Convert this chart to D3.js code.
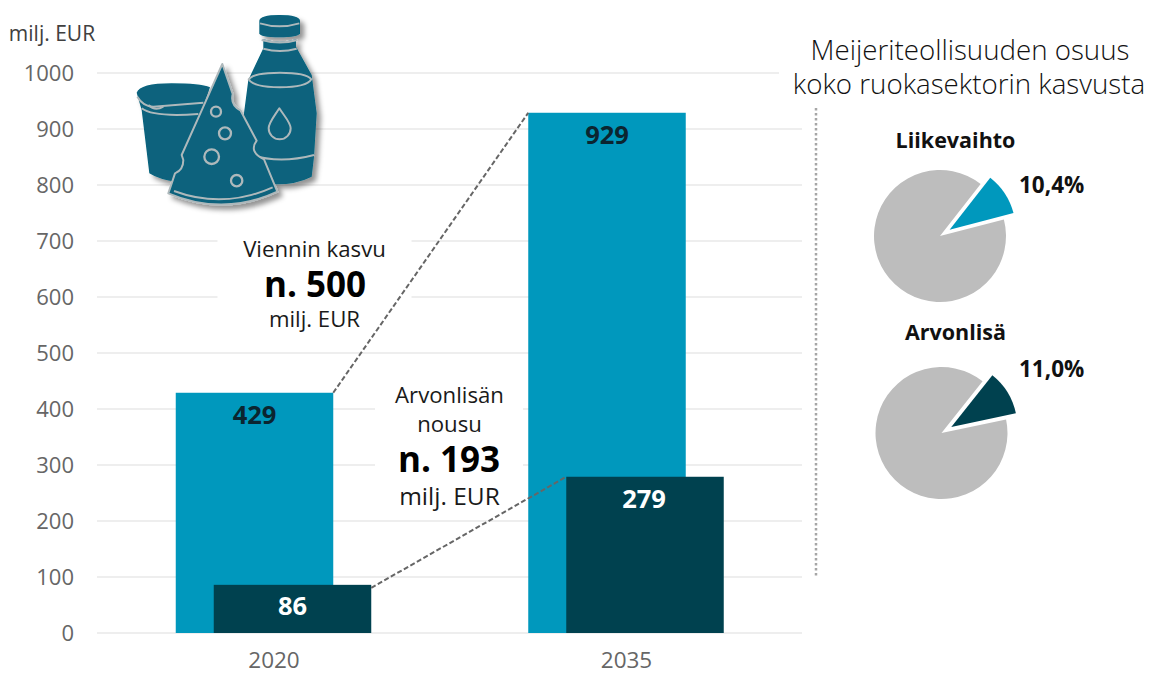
<!DOCTYPE html>
<html><head><meta charset="utf-8">
<script src="https://cdn.jsdelivr.net/npm/d3@7"></script>
<style>html,body{margin:0;padding:0;background:#fff}svg{display:block}text{font-family:"Open Sans",sans-serif}</style>
</head><body><svg id="c" width="1149" height="675"></svg>
<script>
const years = ["2020","2035"];
const exportValues = [429,929];
const valueAdded = [86,279];
const yTicks = [0,100,200,300,400,500,600,700,800,900,1000];
const pieTitles = ["Liikevaihto","Arvonlisä"];
const pieShares = [10.4,11.0];
const pieLabels = ["10,4%","11,0%"];

const svg = d3.select("#c");
const light="#0098bd", dark="#00414f", grey="#bdbdbd", icon="#07627d", iconLine="#aeb8bb";
const y = d3.scaleLinear().domain([0,1000]).range([633,73]);
const x = d3.scalePoint().domain(years).range([273.5,626]);
const barW = 157.5, darkShift = 38, groupShift = 19;

// grid
svg.append("g").selectAll("line").data(yTicks).join("line")
  .attr("x1",97).attr("x2",d=>d===1000?779:802).attr("y1",d=>y(d)).attr("y2",d=>y(d))
  .attr("stroke","#dedede").attr("stroke-width",1.2);

const yAxis = d3.axisLeft(y).tickValues(yTicks).tickSize(0).tickPadding(0).tickFormat(d3.format("d"));
const gy = svg.append("g").attr("transform","translate(74,0)").call(yAxis);
gy.select(".domain").remove();
gy.selectAll("text").attr("font-size",22).attr("fill","#666").style("font-family",'"Open Sans",sans-serif');

const xAxis = d3.axisBottom(x).tickSize(0).tickPadding(0);
const gx = svg.append("g").attr("transform","translate(0,652)").call(xAxis);
gx.select(".domain").remove();
gx.selectAll("text").attr("font-size",22.5).attr("fill","#666").attr("dy","0.71em").style("font-family",'"Open Sans",sans-serif');

function label(t,px,py,size,opt={}){
  return svg.append("text").attr("x",px).attr("y",py).attr("font-size",size)
    .attr("text-anchor",opt.anchor||"middle").attr("font-weight",opt.weight||400)
    .attr("fill",opt.fill||"#1a1a1a").text(t);
}
label("milj. EUR",52,41,21,{fill:"#404040"});

// white blocks behind annotations
svg.append("g").selectAll("rect").data([[217.5,232,194,72],[375,400,148,75]]).join("rect")
  .attr("x",d=>d[0]).attr("y",d=>d[1]).attr("width",d=>d[2]).attr("height",d=>d[3]).attr("fill","#fff");

// bars
svg.append("g").selectAll("rect").data(exportValues).join("rect")
  .attr("x",(d,i)=>x(years[i])-groupShift-barW/2).attr("width",barW)
  .attr("y",d=>y(d)).attr("height",d=>y(0)-y(d)).attr("fill",light);
svg.append("g").selectAll("rect").data(valueAdded).join("rect")
  .attr("x",(d,i)=>x(years[i])-groupShift+darkShift-barW/2).attr("width",barW)
  .attr("y",d=>y(d)).attr("height",d=>y(0)-y(d)).attr("fill",dark);

// connectors
const line = (x1,y1,x2,y2)=>svg.append("line").attr("x1",x1).attr("y1",y1).attr("x2",x2).attr("y2",y2)
  .attr("stroke","#666").attr("stroke-width",2).attr("stroke-dasharray","5 2.5");
const right0 = x(years[0])-groupShift+barW/2, left1 = x(years[1])-groupShift-barW/2;
line(right0,y(exportValues[0]),left1,y(exportValues[1]));
line(right0+darkShift,y(valueAdded[0])+3,left1+darkShift,y(valueAdded[1]));

// bar labels
exportValues.forEach((v,i)=>label(v,x(years[i])-groupShift,y(v)+31,25.5,{weight:700,fill:"#0b2530"}));
valueAdded.forEach((v,i)=>label(v,x(years[i])-groupShift+darkShift-(i?1:0),y(v)+(i?31:30.5),25.5,{weight:700,fill:"#fff"}));

// annotations
label("Viennin kasvu",314.5,257,22.2);
label("n. 500",315,297,35,{weight:700,fill:"#000"});
label("milj. EUR",314.5,327,22.2);
label("Arvonlisän",449.5,403,22.2);
label("nousu",449.5,432,22.2);
label("n. 193",449,472,35,{weight:700,fill:"#000"});
label("milj. EUR",449.5,505,24.5);

// right panel
label("Meijeriteollisuuden osuus",970,60,27.7,{weight:300,fill:"#111"});
label("koko ruokasektorin kasvusta",969,94,27.7,{weight:300,fill:"#111"});
svg.append("line").attr("x1",816).attr("x2",816).attr("y1",108).attr("y2",576)
  .attr("stroke","#a6a6a6").attr("stroke-width",2.5).attr("stroke-dasharray","2.5 2.5");

const pieCx=[940,941.5], pieCy=[236,433], pieStart=[38,38.5], R=66, off=11.5;
const arc=d3.arc().innerRadius(0).outerRadius(R);
pieShares.forEach((s,i)=>{
  const a=pieStart[i]*Math.PI/180;
  const arcs=d3.pie().sort(null).startAngle(a).endAngle(a+2*Math.PI)([s,100-s]);
  const g=svg.append("g").attr("transform",`translate(${pieCx[i]},${pieCy[i]})`);
  g.append("path").attr("d",arc(arcs[1])).attr("fill",grey);
  const mid=(arcs[0].startAngle+arcs[0].endAngle)/2;
  g.append("path").attr("d",arc(arcs[0])).attr("fill",i?dark:light)
    .attr("transform",`translate(${off*Math.sin(mid)},${-off*Math.cos(mid)})`);
  label(pieTitles[i],955.5,i?340:148,21.5,{weight:700,fill:"#111"});
  label(pieLabels[i],1019,i?377:193,22.5,{weight:700,fill:"#111",anchor:"start"});
});

// icon (drawn in 3x crop coordinates)
const defs=svg.append("defs");
const f=defs.append("filter").attr("id","sh").attr("x","-20%").attr("y","-20%").attr("width","150%").attr("height","150%");
f.append("feDropShadow").attr("dx",13).attr("dy",13).attr("stdDeviation",8).attr("flood-color","#000").attr("flood-opacity",0.42);
const ic=svg.append("g").attr("transform","translate(120,0) scale(0.33333)");
const shapes=ic.append("g").attr("filter","url(#sh)");
const P=(d,fill,stroke,w)=>shapes.append("path").attr("d",d).attr("fill",fill||"none").attr("stroke",stroke||"none").attr("stroke-width",w||0).attr("stroke-linejoin","round");
// bottle
P("M418,62 Q420,45 478,45 Q538,45 540,62 L540,100 Q535,112 478,112 Q420,112 418,100 Z",icon);
P("M430,118 Q480,132 528,118 L528,140 L575,225 L590,340 L582,470 L575,530 Q520,558 440,552 L388,530 L372,470 L372,340 L385,240 L392,225 L430,145 Z",icon);
P("M420,70 Q478,88 538,70",null,iconLine,6);
P("M425,120 Q480,135 532,120",null,iconLine,6);
P("M430,146 Q480,160 530,146",null,iconLine,6);
P("M386,238 Q400,218 480,218 Q560,218 574,238 Q560,262 480,262 Q400,262 386,238 Z",icon,iconLine,6);
P("M395,465 Q480,492 582,465",null,iconLine,6);
P("M478,325 C462,350 446,368 446,385 A33,33 0 0 0 512,385 C512,368 494,350 478,325 Z",null,iconLine,6);
// cup
P("M50,278 Q60,250 155,250 Q240,250 270,262 L170,545 Q120,540 88,520 L65,330 Z",icon);
P("M52,290 Q70,320 100,320 L250,308",null,iconLine,6);
P("M65,325 Q100,352 235,342",null,iconLine,6);
P("M85,315 Q105,335 130,320",null,iconLine,6);
// cheese
P("M307,192 L338,282 Q330,315 362,332 L410,422 Q385,455 432,478 L472,575 Q310,650 145,580 L165,520 Q190,510 190,480 L185,465 L250,320 Z",icon,iconLine,6);
P("M162,573 Q310,628 458,562",null,iconLine,6);
[[288,335,15],[315,400,18],[275,470,22],[350,542,17]].forEach(c=>
  shapes.append("circle").attr("cx",c[0]).attr("cy",c[1]).attr("r",c[2]).attr("fill","none").attr("stroke",iconLine).attr("stroke-width",7));
</script></body></html>
